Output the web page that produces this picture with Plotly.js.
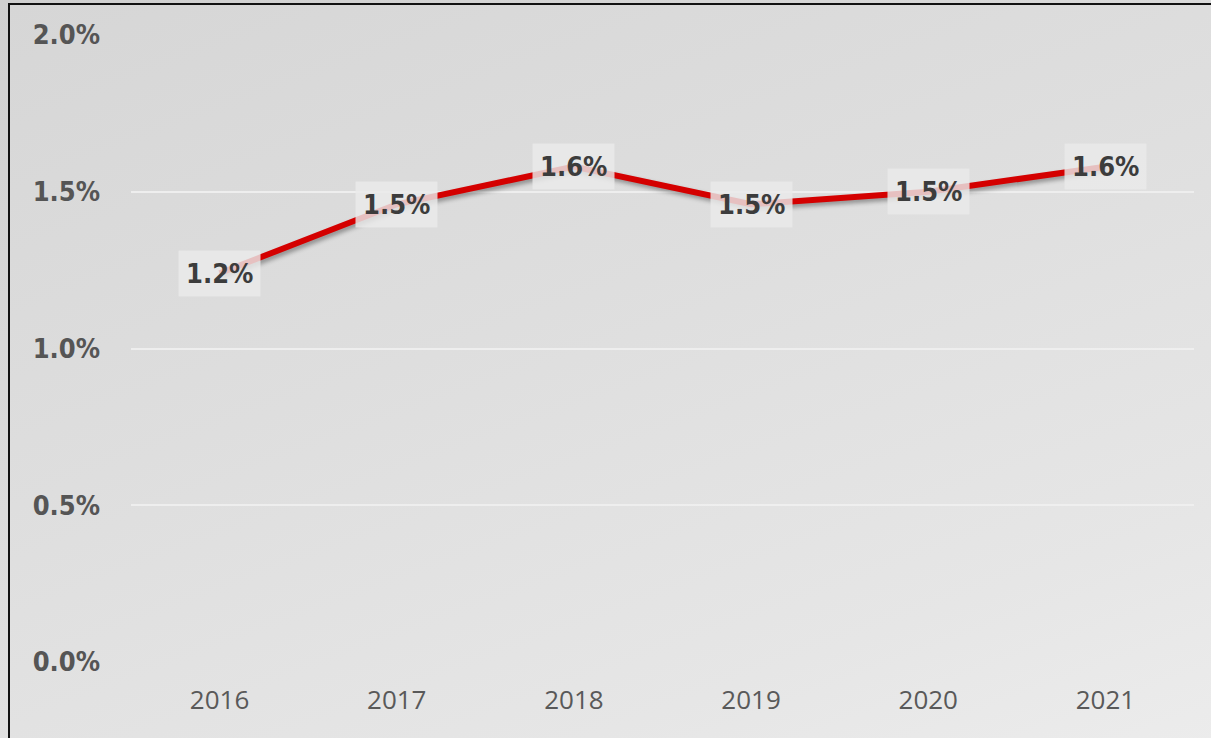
<!DOCTYPE html>
<html>
<head>
<meta charset="utf-8">
<script src="https://cdn.plot.ly/plotly-3.0.1.min.js"></script>
<style>
  html, body { margin:0; padding:0; width:1211px; height:738px; overflow:hidden; }
  body { background: linear-gradient(160deg, #cfcfcf 0%, #dadada 40%, #e4e4e4 75%, #ececec 100%); }
  #frame { position:absolute; left:8px; top:3px; width:1260px; height:800px; border-left:2px solid #111; border-top:2px solid #111;
           background: linear-gradient(160deg, #d6d6d6 0%, #dedede 40%, #e6e6e6 75%, #eeeeee 100%); }
  #chart { position:absolute; left:0; top:0; width:1211px; height:738px; }
  .scatterlayer .js-line { filter: drop-shadow(2px 3px 2px rgba(0,0,0,0.35)); }
  #dbg { position:absolute; left:300px; top:600px; font-size:14px; color:#000; }
</style>
</head>
<body>
<div id="frame"></div>
<div id="chart"></div>
<div id="dbg"></div>
<script>
const years = ['2016', '2017', '2018', '2019', '2020', '2021'];
const rates = [0.0124, 0.0146, 0.0158, 0.0146, 0.0150, 0.0158];
const yTicks = [0, 0.005, 0.01, 0.015, 0.02];

const labelFont = { family: 'DejaVu Sans Condensed, DejaVu Sans, sans-serif', size: 27, color: '#3c3c3c', weight: 700 };

const annotations = years.map((y, i) => ({
  x: i, y: rates[i], xref: 'x', yref: 'y',
  text: (rates[i] * 100).toFixed(1) + '%',
  showarrow: false,
  font: labelFont,
  bgcolor: 'rgba(234,234,234,0.82)',
  borderpad: 7,
  xanchor: 'center', yanchor: 'middle'
}));

const trace = {
  x: years, y: rates, type: 'scatter', mode: 'lines',
  line: { color: '#d40000', width: 6 },
  hoverinfo: 'skip'
};

const layout = {
  width: 1211, height: 738,
  margin: { l: 131, r: 17, t: 35, b: 76 },
  paper_bgcolor: 'rgba(0,0,0,0)',
  plot_bgcolor: 'rgba(0,0,0,0)',
  showlegend: false,
  xaxis: {
    type: 'category', range: [-0.5, 5.5],
    showgrid: false, zeroline: false, showline: false, ticks: '',
    tickfont: { family: 'Open Sans, Liberation Sans, sans-serif', size: 26, color: '#595959' },
    ticklabelstandoff: 20
  },
  yaxis: {
    range: [0, 0.02], tickvals: yTicks, tickformat: '.1%',
    showgrid: true, gridcolor: 'rgba(240,240,240,0.9)', gridwidth: 2,
    zeroline: false, showline: false, ticks: '',
    tickfont: { family: 'DejaVu Sans Condensed, DejaVu Sans, sans-serif', size: 27, color: '#555555', weight: 700 },
    ticklabelstandoff: 30
  },
  annotations: annotations
};

Plotly.newPlot('chart', [trace], layout, { displayModeBar: false }).then(function(gd){
  var n = document.querySelectorAll('.annotation').length;
  if (n === 0) document.getElementById('dbg').textContent = 'annotations in DOM: ' + n + ' layout: ' + (gd._fullLayout.annotations||[]).length;
}).catch(function(e){ document.getElementById('dbg').textContent = 'ERR ' + e; });
</script>
</body>
</html>
